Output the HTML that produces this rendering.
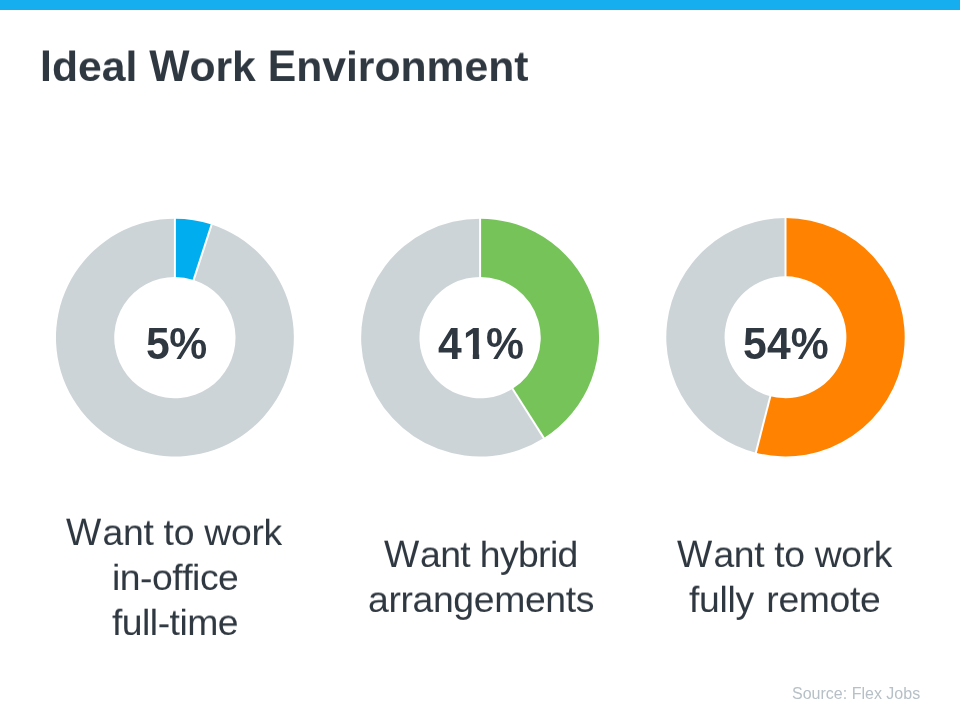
<!DOCTYPE html>
<html><head><meta charset="utf-8"><title>Ideal Work Environment</title>
<style>
html,body{margin:0;padding:0;}
body{width:960px;height:720px;background:#fff;position:relative;overflow:hidden;font-family:"Liberation Sans",sans-serif;color:#2f3840;font-kerning:none;}
.bar{position:absolute;left:0;top:0;width:960px;height:10px;background:#17aeef;}
.t{position:absolute;margin:0;white-space:nowrap;will-change:transform;transform:translateZ(0);}
.ttl{font-size:42.67px;line-height:48px;font-weight:bold;transform:translateZ(0) scaleY(0.985);transform-origin:0 38.8px;}
.cap,.one{display:inline-block;}
.ttl .cap{transform:scaleY(1.04);transform-origin:0 38.8px;}
.lab .cap{transform:scaleY(1.05);transform-origin:0 35.3px;margin-right:1.5px;}
.one{margin-left:1px;margin-right:-1px;clip-path:polygon(0 0,18px 0,18px 33.4px,16.2px 33.4px,16.2px 100%,9.8px 100%,9.8px 33.4px,0 33.4px);}
.pct{font-size:42.67px;line-height:48px;font-weight:bold;transform:translateZ(0) scaleY(1.062);transform-origin:0 38.8px;}
.lab{font-size:37.33px;line-height:44.8px;transform:translateZ(0) scaleY(0.975);transform-origin:0 35.3px;}
.src{font-size:16px;line-height:18px;color:#b6c0c6;}
</style></head><body>
<div class="bar"></div>
<svg width="960" height="720" viewBox="0 0 960 720" style="position:absolute;left:0;top:0">
<path d="M174.90,218.65 A118.95,118.95 0 0 1 211.66,224.47 L193.64,279.92 A60.65,60.65 0 0 0 174.90,276.95 Z" fill="#00aeef"/>
<path d="M211.66,224.47 A118.95,118.95 0 1 1 174.90,218.65 L174.90,276.95 A60.65,60.65 0 1 0 193.64,279.92 Z" fill="#cdd4d7"/>
<line x1="174.90" y1="277.95" x2="174.90" y2="217.65" stroke="#fff" stroke-width="2.0"/><line x1="193.33" y1="280.87" x2="211.97" y2="223.52" stroke="#fff" stroke-width="2.0"/>
<path d="M480.10,218.65 A118.95,118.95 0 0 1 543.84,438.03 L512.60,388.81 A60.65,60.65 0 0 0 480.10,276.95 Z" fill="#76c35a"/>
<path d="M543.84,438.03 A118.95,118.95 0 1 1 480.10,218.65 L480.10,276.95 A60.65,60.65 0 1 0 512.60,388.81 Z" fill="#cdd4d7"/>
<line x1="480.10" y1="277.95" x2="480.10" y2="217.65" stroke="#fff" stroke-width="2.0"/><line x1="512.06" y1="387.96" x2="544.37" y2="438.88" stroke="#fff" stroke-width="2.0"/>
<path d="M785.50,218.05 A119.2,119.2 0 1 1 755.86,452.71 L770.35,396.24 A60.9,60.9 0 1 0 785.50,276.35 Z" fill="#ff8300"/>
<path d="M755.86,452.71 A119.2,119.2 0 0 1 785.50,218.05 L785.50,276.35 A60.9,60.9 0 0 0 770.35,396.24 Z" fill="#cdd4d7"/>
<line x1="785.50" y1="277.35" x2="785.50" y2="217.05" stroke="#fff" stroke-width="2.0"/><line x1="770.60" y1="395.27" x2="755.61" y2="453.67" stroke="#fff" stroke-width="2.0"/>
</svg>
<div id="title" class="t ttl" style="left:40.00px;top:42.00px;letter-spacing:0.011px;"><span class="cap">I</span>deal <span class="cap">W</span>ork <span class="cap">E</span>nvironment</div>
<div id="p1" class="t pct" style="left:146.00px;top:320.00px;letter-spacing:-0.484px;">5%</div>
<div id="p2" class="t pct" style="left:438.00px;top:320.00px;letter-spacing:0.266px;">4<span class="one">1</span>%</div>
<div id="p3" class="t pct" style="left:743.00px;top:320.00px;letter-spacing:0.172px;">54%</div>
<div id="a1" class="t lab" style="left:66.00px;top:510.00px;letter-spacing:-0.284px;"><span class="cap">W</span>ant to work</div>
<div id="a2" class="t lab" style="left:112.00px;top:555.00px;letter-spacing:-0.482px;">in-office</div>
<div id="a3" class="t lab" style="left:112.00px;top:600.00px;letter-spacing:-0.522px;">full-time</div>
<div id="b1" class="t lab" style="left:384.00px;top:532.00px;letter-spacing:-0.637px;"><span class="cap">W</span>ant hybrid</div>
<div id="b2" class="t lab" style="left:368.00px;top:577.00px;letter-spacing:-0.354px;">arrangements</div>
<div id="c1" class="t lab" style="left:677.00px;top:532.00px;letter-spacing:-0.358px;"><span class="cap">W</span>ant to work</div>
<div id="c2" class="t lab" style="left:689.00px;top:577.00px;letter-spacing:-0.325px;word-spacing:2.5px;">fully remote</div>
<div id="src" class="t src" style="left:792.00px;top:685.00px;letter-spacing:0.008px;">Source: Flex Jobs</div>
</body></html>
